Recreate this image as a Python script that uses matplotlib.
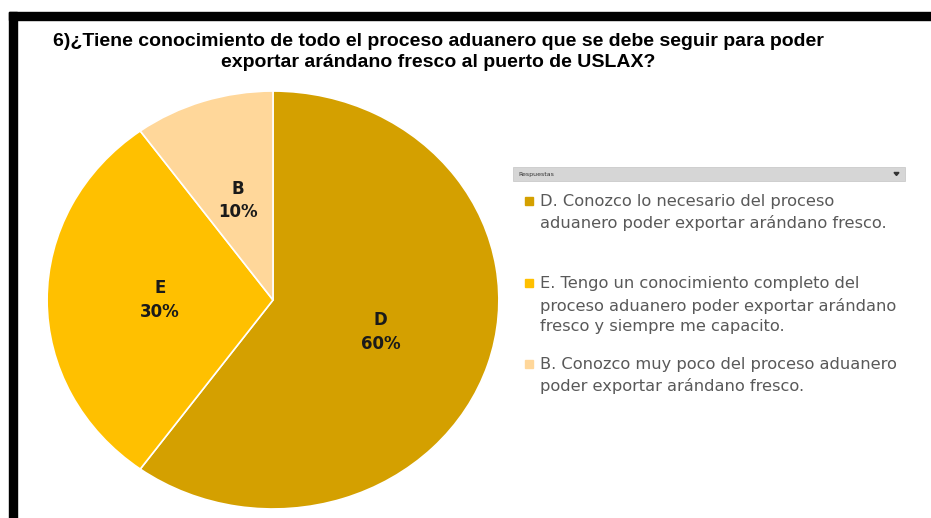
import matplotlib
matplotlib.use('Agg')
import matplotlib.pyplot as plt
from matplotlib.patches import Rectangle, Polygon

W, H = 931, 518

title = '6)¿Tiene conocimiento de todo el proceso aduanero que se debe seguir para poder\nexportar arándano fresco al puerto de USLAX?'
letters = ['D', 'E', 'B']
values = [60, 30, 10]
colors = ['#D4A000', '#FFC000', '#FFD79A']
legend_labels = [
	'D. Conozco lo necesario del proceso\naduanero poder exportar arándano fresco.',
	'E. Tengo un conocimiento completo del\nproceso aduanero poder exportar arándano\nfresco y siempre me capacito.',
	'B. Conozco muy poco del proceso aduanero\npoder exportar arándano fresco.',
]
legend_title = 'Respuestas'

def px(x, y):
	# pixel (from top-left) to figure coords
	return x / W, 1 - y / H

fig = plt.figure(figsize=(W / 100, H / 100), dpi=100)
fig.patch.set_facecolor('white')

# black frame on top and left
fig.patches.append(Rectangle(px(9, 20), 922 / W, 8 / H, transform=fig.transFigure, color='black', zorder=5))
fig.patches.append(Rectangle(px(9, 518), 8 / W, 506 / H, transform=fig.transFigure, color='black', zorder=5))

fig.text(*px(438, 52), title, ha='center', va='center', fontsize=14, fontweight='bold',
	family='Liberation Sans', linespacing=1.3)

# pie
ax = fig.add_axes([46 / W, 8 / H, 454 / W, 420 / H])
wedges, texts, autotexts = ax.pie(values, colors=colors, startangle=90, counterclock=False,
	autopct='%1.0f%%', pctdistance=0.5,
	wedgeprops={'edgecolor': 'white', 'linewidth': 1.2})
for t, l in zip(autotexts, letters):
	t.set_text(l + '\n' + t.get_text())
	t.set_fontsize(12)
	t.set_fontweight('bold')
	t.set_color('#1a1a1a')
	t.set_linespacing(1.4)
ax.set_aspect('auto')
ax.set_xlim(-1.005, 1.005)
ax.set_ylim(-1.005, 1.005)

# legend header bar
fig.patches.append(Rectangle(px(513, 181), 392 / W, 14 / H, transform=fig.transFigure,
	facecolor='#d6d6d6', edgecolor='#c4c4c4', linewidth=0.5))
fig.text(*px(518, 174.5), legend_title, fontsize=4.5, color='#333333', va='center')
fig.patches.append(Polygon([px(894, 172.5), px(899, 172.5), px(896.5, 175.5)], closed=True,
	transform=fig.transFigure, color='#333333'))

# legend entries
entry_y = [201, 283, 364]
for y, c, lab in zip(entry_y, colors, legend_labels):
	fig.patches.append(Rectangle(px(525, y + 4), 8 / W, 8 / H, transform=fig.transFigure, color=c))
	fig.text(*px(540, y - 7), lab, fontsize=11.7, color='#595959', va='top', ha='left',
		linespacing=1.5)

fig.savefig('out.png', dpi=100)
